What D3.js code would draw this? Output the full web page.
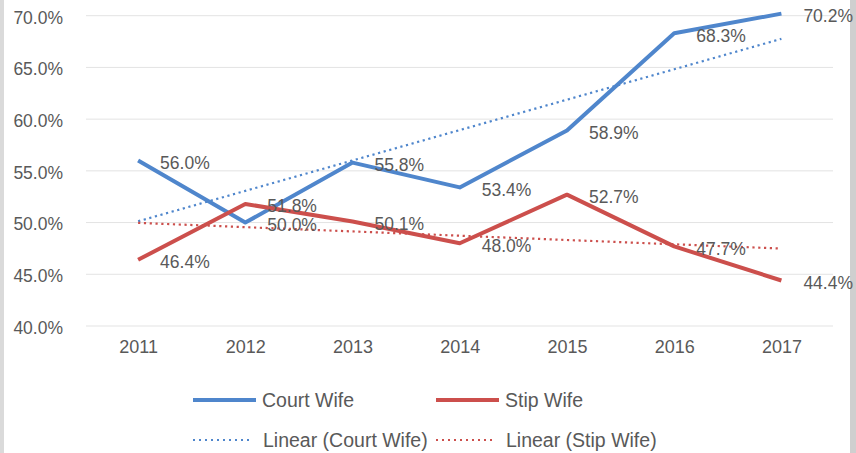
<!DOCTYPE html>
<html>
<head>
<meta charset="utf-8">
<script src="https://cdn.jsdelivr.net/npm/d3@7"></script>
<style>
  html, body { margin: 0; padding: 0; background: #fff; }
  .graph { display: block; }
  text { font-family: "Liberation Sans", Arial, sans-serif; fill: #595959; }
</style>
</head>
<body>
<svg class="graph" width="856" height="453"></svg>
<script>
//======
// Data
//======

var years = ["2011", "2012", "2013", "2014", "2015", "2016", "2017"];
var courtWife = [0.560, 0.500, 0.558, 0.534, 0.589, 0.683, 0.702];
var stipWife = [0.464, 0.518, 0.501, 0.480, 0.527, 0.477, 0.444];
var yTicks = [0.40, 0.45, 0.50, 0.55, 0.60, 0.65, 0.70];
var seriesNames = ["Court Wife", "Stip Wife"];
var trendNames = ["Linear (Court Wife)", "Linear (Stip Wife)"];

//====
// D3
//====

var width, height;
var svg = d3.select(".graph");
var blue = "#4f86cc", red = "#cc4f4c";

main()

function main() {
  width = 856;
  height = 453;
  svg.attr("width", width).attr("height", height);
  drawChart();
}

// least squares fit over the category index, like Excel's linear trendline
function linearFit(values) {
  var mx = d3.mean(values, function (d, i) { return i; });
  var my = d3.mean(values);
  var num = 0, den = 0;
  values.forEach(function (v, i) {
    num += (i - mx) * (v - my);
    den += (i - mx) * (i - mx);
  });
  var slope = num / den;
  return values.map(function (v, i) { return my + slope * (i - mx); });
}

function drawChart() {
  var x = d3.scalePoint().domain(years).range([84.5, 835]).padding(0.5);
  var y = d3.scaleLinear().domain([0.40, 0.70]).range([326, 15.7]);
  var fmt = d3.format(".1%");

  // frame edges
  svg.append("rect").attr("x", 0).attr("y", 0).attr("width", 4).attr("height", height).attr("fill", "#dadada");
  svg.append("rect").attr("x", 850).attr("y", 0).attr("width", 6).attr("height", height).attr("fill", "#cfcfcf");

  // gridlines
  svg.append("g")
    .selectAll("line")
    .data(yTicks)
    .enter().append("line")
    .attr("x1", 86).attr("x2", 833)
    .attr("y1", function (d) { return y(d); })
    .attr("y2", function (d) { return y(d); })
    .attr("stroke", "#e3e3e3")
    .attr("stroke-width", 1);

  // y axis
  var yAxis = svg.append("g")
    .attr("transform", "translate(66,0)")
    .call(d3.axisLeft(y).tickValues(yTicks).tickFormat(fmt).tickSize(0).tickPadding(3));
  yAxis.select(".domain").remove();
  yAxis.selectAll("text")
    .attr("font-size", "17.5px")
    .attr("font-family", null)
    .attr("dy", "0.42em")
    .attr("fill", null);

  // x axis
  var xAxis = svg.append("g")
    .attr("transform", "translate(0,340)")
    .call(d3.axisBottom(x).tickSize(0).tickPadding(0));
  xAxis.select(".domain").remove();
  xAxis.selectAll("text")
    .attr("font-size", "18px")
    .attr("font-family", null)
    .attr("dy", "0.71em")
    .attr("fill", null);

  var line = d3.line()
    .x(function (d, i) { return x(years[i]); })
    .y(function (d) { return y(d); });

  var series = [
    {name: seriesNames[0], values: courtWife, color: blue},
    {name: seriesNames[1], values: stipWife, color: red}
  ];

  // data lines
  svg.append("g")
    .selectAll("path")
    .data(series)
    .enter().append("path")
    .attr("d", function (d) { return line(d.values); })
    .attr("fill", "none")
    .attr("stroke", function (d) { return d.color; })
    .attr("stroke-width", 4)
    .attr("stroke-linejoin", "round");

  // trend lines
  svg.append("g")
    .selectAll("path")
    .data(series)
    .enter().append("path")
    .attr("d", function (d) { return line(linearFit(d.values)); })
    .attr("fill", "none")
    .attr("stroke", function (d) { return d.color; })
    .attr("stroke-width", 2.2)
    .attr("stroke-dasharray", "2.2,3.6");

  // data labels
  series.forEach(function (s) {
    svg.append("g")
      .selectAll("text")
      .data(s.values)
      .enter().append("text")
      .attr("x", function (d, i) { return x(years[i]) + 22; })
      .attr("y", function (d) { return y(d) + 2; })
      .attr("dy", "0.36em")
      .attr("font-size", "17.5px")
      .text(function (d) { return fmt(d); });
  });

  // legend
  var legendItems = [
    {label: seriesNames[0], color: blue, x: 193, y: 400, dashed: false},
    {label: seriesNames[1], color: red, x: 436, y: 400, dashed: false},
    {label: trendNames[0], color: blue, x: 193, y: 440, dashed: true},
    {label: trendNames[1], color: red, x: 436, y: 440, dashed: true}
  ];

  var legend = svg.append("g")
    .selectAll("g")
    .data(legendItems)
    .enter().append("g")
    .attr("transform", function (d) { return "translate(" + [d.x, d.y] + ")"; });

  legend.append("line")
    .attr("x1", 0)
    .attr("x2", function (d) { return d.dashed ? 59 : 63; })
    .attr("y1", 0).attr("y2", 0)
    .attr("stroke", function (d) { return d.color; })
    .attr("stroke-width", function (d) { return d.dashed ? 2 : 4; })
    .attr("stroke-dasharray", function (d) { return d.dashed ? "2,4" : null; });

  legend.append("text")
    .attr("x", function (d) { return d.dashed ? 70 : 69; })
    .attr("y", 0)
    .attr("dy", "0.36em")
    .attr("font-size", "19.5px")
    .text(function (d) { return d.label; });
}
</script>
</body>
</html>
